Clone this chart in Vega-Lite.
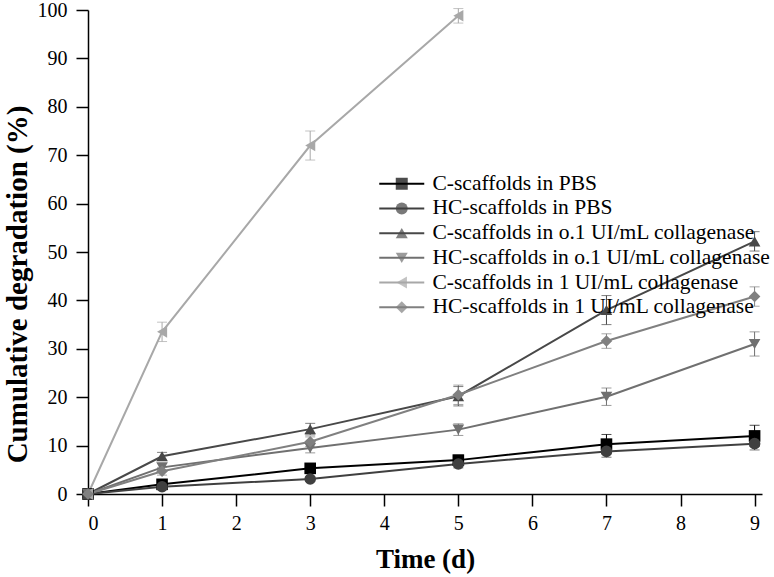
{
  "$schema": "https://vega.github.io/schema/vega-lite/v6.json",
  "width": 674,
  "height": 484,
  "autosize": {"type": "none"},
  "padding": {"left": 88, "top": 10, "right": 12, "bottom": 83},
  "background": "white",
  "config": {
    "view": {"stroke": null},
    "font": "Liberation Serif",
    "axis": {"domainColor": "#000", "domainWidth": 1.5, "tickColor": "#000", "tickWidth": 1.5, "tickSize": 12, "labelFont": "Liberation Serif", "labelFontSize": 20, "labelColor": "#000", "titleFont": "Liberation Serif", "titleFontWeight": "bold", "titleColor": "#000", "grid": false},
    "legend": {"orient": "none", "legendX": 303, "legendY": 163, "padding": 0, "symbolSize": 144, "labelFontSize": 21.5, "labelFont": "Liberation Serif", "labelColor": "#000", "labelOffset": 20, "rowPadding": 1.7, "labelLimit": 500, "title": null}
  },
  "data": {"values": [
    {"t": 0, "s": "C-scaffolds in PBS", "k": "a", "v": 0, "lo": 0, "hi": 0},
    {"t": 1, "s": "C-scaffolds in PBS", "k": "a", "v": 2.0, "lo": 1.5, "hi": 2.5},
    {"t": 3, "s": "C-scaffolds in PBS", "k": "a", "v": 5.3, "lo": 4.5, "hi": 6.1},
    {"t": 5, "s": "C-scaffolds in PBS", "k": "a", "v": 7.0, "lo": 6.0, "hi": 8.0},
    {"t": 7, "s": "C-scaffolds in PBS", "k": "a", "v": 10.3, "lo": 8.3, "hi": 12.3},
    {"t": 9, "s": "C-scaffolds in PBS", "k": "a", "v": 12.0, "lo": 9.8, "hi": 14.2},
    {"t": 0, "s": "HC-scaffolds in PBS", "k": "b", "v": 0, "lo": 0, "hi": 0},
    {"t": 1, "s": "HC-scaffolds in PBS", "k": "b", "v": 1.5, "lo": 1.0, "hi": 2.0},
    {"t": 3, "s": "HC-scaffolds in PBS", "k": "b", "v": 3.1, "lo": 2.6, "hi": 3.6},
    {"t": 5, "s": "HC-scaffolds in PBS", "k": "b", "v": 6.2, "lo": 5.4, "hi": 7.0},
    {"t": 7, "s": "HC-scaffolds in PBS", "k": "b", "v": 8.8, "lo": 7.6, "hi": 10.0},
    {"t": 9, "s": "HC-scaffolds in PBS", "k": "b", "v": 10.4, "lo": 9.1, "hi": 11.7},
    {"t": 0, "s": "C-scaffolds in o.1 UI/mL collagenase", "k": "c", "v": 0, "lo": 0, "hi": 0},
    {"t": 1, "s": "C-scaffolds in o.1 UI/mL collagenase", "k": "c", "v": 7.8, "lo": 7.0, "hi": 8.6},
    {"t": 3, "s": "C-scaffolds in o.1 UI/mL collagenase", "k": "c", "v": 13.4, "lo": 12.2, "hi": 14.6},
    {"t": 5, "s": "C-scaffolds in o.1 UI/mL collagenase", "k": "c", "v": 20.2, "lo": 18.2, "hi": 22.2},
    {"t": 7, "s": "C-scaffolds in o.1 UI/mL collagenase", "k": "c", "v": 38.0, "lo": 35.0, "hi": 41.0},
    {"t": 9, "s": "C-scaffolds in o.1 UI/mL collagenase", "k": "c", "v": 52.2, "lo": 50.2, "hi": 54.2},
    {"t": 0, "s": "HC-scaffolds in o.1 UI/mL collagenase", "k": "d", "v": 0, "lo": 0, "hi": 0},
    {"t": 1, "s": "HC-scaffolds in o.1 UI/mL collagenase", "k": "d", "v": 5.5, "lo": 4.7, "hi": 6.3},
    {"t": 3, "s": "HC-scaffolds in o.1 UI/mL collagenase", "k": "d", "v": 9.5, "lo": 8.5, "hi": 10.5},
    {"t": 5, "s": "HC-scaffolds in o.1 UI/mL collagenase", "k": "d", "v": 13.3, "lo": 12.1, "hi": 14.5},
    {"t": 7, "s": "HC-scaffolds in o.1 UI/mL collagenase", "k": "d", "v": 20.1, "lo": 18.3, "hi": 21.9},
    {"t": 9, "s": "HC-scaffolds in o.1 UI/mL collagenase", "k": "d", "v": 31.0, "lo": 28.5, "hi": 33.5},
    {"t": 0, "s": "C-scaffolds in 1 UI/mL collagenase", "k": "e", "v": 0, "lo": 0, "hi": 0},
    {"t": 1, "s": "C-scaffolds in 1 UI/mL collagenase", "k": "e", "v": 33.5, "lo": 31.5, "hi": 35.5},
    {"t": 3, "s": "C-scaffolds in 1 UI/mL collagenase", "k": "e", "v": 72.0, "lo": 69.0, "hi": 75.0},
    {"t": 5, "s": "C-scaffolds in 1 UI/mL collagenase", "k": "e", "v": 98.8, "lo": 97.3, "hi": 100.3},
    {"t": 0, "s": "HC-scaffolds in 1 UI/mL collagenase", "k": "f", "v": 0, "lo": 0, "hi": 0},
    {"t": 1, "s": "HC-scaffolds in 1 UI/mL collagenase", "k": "f", "v": 4.7, "lo": 3.9, "hi": 5.5},
    {"t": 3, "s": "HC-scaffolds in 1 UI/mL collagenase", "k": "f", "v": 10.8, "lo": 9.8, "hi": 11.8},
    {"t": 5, "s": "HC-scaffolds in 1 UI/mL collagenase", "k": "f", "v": 20.5, "lo": 18.5, "hi": 22.5},
    {"t": 7, "s": "HC-scaffolds in 1 UI/mL collagenase", "k": "f", "v": 31.6, "lo": 30.1, "hi": 33.1},
    {"t": 9, "s": "HC-scaffolds in 1 UI/mL collagenase", "k": "f", "v": 40.8, "lo": 38.8, "hi": 42.8}
  ]},
  "encoding": {
    "x": {"field": "t", "type": "quantitative", "scale": {"domain": [0, 9.1], "nice": false, "zero": false}, "axis": {"values": [0,1,2,3,4,5,6,7,8,9], "title": "Time (d)", "titleFontSize": 27, "titlePadding": 13, "labelPadding": 7}}
  },
  "layer": [
    {"mark": {"type": "line", "strokeWidth": 2},
     "encoding": {
       "y": {"field": "v", "type": "quantitative", "scale": {"domain": [0, 100], "nice": false}, "axis": {"values": [0,10,20,30,40,50,60,70,80,90,100], "title": "Cumulative degradation (%)", "titleFontSize": 29, "titleY": 274, "titlePadding": 5, "labelPadding": 9}},
       "stroke": {"field": "s", "type": "nominal",
         "scale": {"domain": ["C-scaffolds in PBS", "HC-scaffolds in PBS", "C-scaffolds in o.1 UI/mL collagenase", "HC-scaffolds in o.1 UI/mL collagenase", "C-scaffolds in 1 UI/mL collagenase", "HC-scaffolds in 1 UI/mL collagenase"],
                   "range": ["#000000", "#404040", "#484848", "#707070", "#a8a8a8", "#808080"]},
         "legend": {"symbolType": "M-3.75,0H3.75", "symbolStrokeWidth": 2}}
     }},
    {"mark": {"type": "rule", "strokeWidth": 1},
     "encoding": {"y": {"field": "lo", "type": "quantitative"}, "y2": {"field": "hi"},
       "stroke": {"field": "s", "type": "nominal"}}},
    {"mark": {"type": "tick", "orient": "horizontal", "size": 10, "thickness": 1},
     "encoding": {"y": {"field": "hi", "type": "quantitative"}, "fill": {"field": "k", "type": "nominal"}}},
    {"mark": {"type": "tick", "orient": "horizontal", "size": 10, "thickness": 1},
     "encoding": {"y": {"field": "lo", "type": "quantitative"}, "fill": {"field": "k", "type": "nominal"}}},
    {"mark": {"type": "point", "filled": true, "opacity": 1, "size": 135, "strokeWidth": 0},
     "encoding": {"y": {"field": "v", "type": "quantitative"},
       "fill": {"field": "k", "type": "nominal",
         "scale": {"domain": ["a","b","c","d","e","f"], "range": ["#000000", "#404040", "#484848", "#707070", "#a8a8a8", "#808080"]},
         "legend": {"labelExpr": "' '", "labelColor": "rgba(0,0,0,0)", "symbolStrokeWidth": 0, "symbolOpacity": 1}},
       "shape": {"field": "k", "type": "nominal",
         "scale": {"domain": ["a","b","c","d","e","f"], "range": ["square", "circle", "triangle-up", "triangle-down", "triangle-left", "diamond"]},
         "legend": {"labelExpr": "' '", "labelColor": "rgba(0,0,0,0)", "symbolStrokeWidth": 0, "symbolOpacity": 1}}}}
  ]
}
